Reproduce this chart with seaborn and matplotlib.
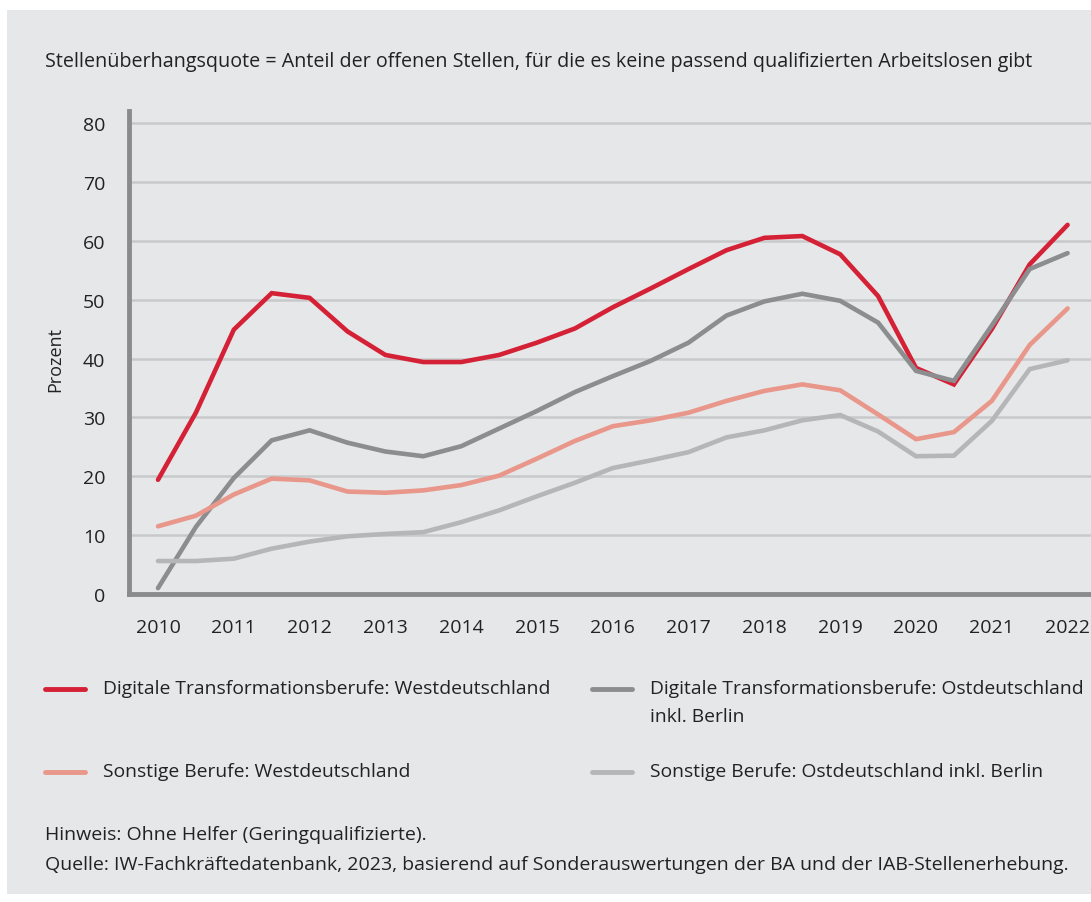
import numpy as np
import pandas as pd
import matplotlib
matplotlib.use("Agg")
import matplotlib.pyplot as plt
import seaborn as sns
from matplotlib import font_manager as fm
from matplotlib.patches import Rectangle

# ---- data ----
years = [2010 + 0.5 * i for i in range(25)]
digital_west = [19.4, 30.8, 44.9, 51.1, 50.3, 44.6, 40.6, 39.4, 39.4, 40.6,
                42.7, 45.1, 48.7, 51.9, 55.2, 58.4, 60.5, 60.8, 57.7, 50.6,
                38.4, 35.6, 45.0, 56.0, 62.7]
digital_ost = [1.0, 11.4, 19.7, 26.1, 27.8, 25.7, 24.2, 23.4, 25.1, 28.1,
               31.1, 34.3, 37.0, 39.6, 42.7, 47.3, 49.7, 51.0, 49.8, 46.1,
               37.9, 36.2, 45.6, 55.2, 57.9]
sonstige_west = [11.5, 13.3, 16.9, 19.6, 19.3, 17.4, 17.2, 17.6, 18.5, 20.1,
                 23.0, 26.0, 28.5, 29.5, 30.8, 32.8, 34.5, 35.6, 34.6, 30.5,
                 26.3, 27.5, 32.8, 42.3, 48.5]
sonstige_ost = [5.6, 5.6, 6.0, 7.7, 8.9, 9.8, 10.2, 10.5, 12.2, 14.2,
                16.6, 18.9, 21.4, 22.7, 24.1, 26.6, 27.8, 29.5, 30.4, 27.6,
                23.4, 23.5, 29.4, 38.2, 39.7]
series_names = ["Digitale Transformationsberufe: Westdeutschland",
                "Digitale Transformationsberufe: Ostdeutschland\ninkl. Berlin",
                "Sonstige Berufe: Westdeutschland",
                "Sonstige Berufe: Ostdeutschland inkl. Berlin"]
colors = ["#d42136", "#8c8d8f", "#e8978a", "#b5b6b8"]
xticks = list(range(2010, 2023))
yticks = list(range(0, 81, 10))
title = "Stellenüberhangsquote = Anteil der offenen Stellen, für die es keine passend qualifizierten Arbeitslosen gibt"
ylabel = "Prozent"
note1 = "Hinweis: Ohne Helfer (Geringqualifizierte)."
note2 = "Quelle: IW-Fachkräftedatenbank, 2023, basierend auf Sonderauswertungen der BA und der IAB-Stellenerhebung."

df = pd.DataFrame({"Jahr": years * 4,
                   "Wert": digital_west + digital_ost + sonstige_west + sonstige_ost,
                   "Serie": sum([[n] * len(years) for n in series_names], [])})

sns.set_theme(style="white")
avail = {f.name for f in fm.fontManager.ttflist}
fam = "Open Sans" if "Open Sans" in avail else "DejaVu Sans"
plt.rcParams["font.family"] = [fam, "DejaVu Sans"]

BG = "#e6e7e9"
TXT = "#222222"
W, H = 1091, 903
fig = plt.figure(figsize=(W / 100, H / 100), dpi=100, facecolor="white")
fig.patches.append(Rectangle((7 / W, 1 - 895 / H), 1 - 7 / W, (895 - 11) / H,
                             transform=fig.transFigure, facecolor=BG,
                             edgecolor="none", zorder=-10))

ax_l, ax_r, ax_t, ax_b = 129, 1091, 112, 595
ax = fig.add_axes([ax_l / W, 1 - ax_b / H, (ax_r - ax_l) / W, (ax_b - ax_t) / H])
ax.set_facecolor(BG)

sns.lineplot(data=df, x="Jahr", y="Wert", hue="Serie", palette=colors,
             hue_order=series_names, linewidth=3.3, ax=ax, legend=False,
             zorder=3)
for l in ax.lines:
    l.set_solid_capstyle("round")
    l.set_solid_joinstyle("miter")

x0 = 2010 - (158 - ax_l) / 75.8
x1 = 2010 + (ax_r - 158) / 75.8
ax.set_xlim(x0, x1)
ax.set_ylim(0, 80 + (124 - ax_t) / 5.875)
ax.set_xticks(xticks)
ax.set_yticks(yticks)
ax.set_xticklabels([str(t) for t in xticks], fontsize=14, color=TXT)
ax.set_yticklabels([str(t) for t in yticks], fontsize=14, color=TXT)
ax.tick_params(axis="both", length=0)
ax.tick_params(axis="x", pad=17)
ax.tick_params(axis="y", pad=17)
for lab in ax.get_xticklabels():
    lab.set_clip_on(False)
ax.grid(axis="y", color="#c8c9cb", linewidth=1.8, zorder=1)
ax.set_axisbelow(True)
for s in ["top", "right"]:
    ax.spines[s].set_visible(False)
for s in ["left", "bottom"]:
    ax.spines[s].set_color("#8a8b8d")
    ax.spines[s].set_linewidth(3.5)
    ax.spines[s].set_zorder(4)
ax.set_xlabel("")
ax.set_ylabel("")
fig.text(55 / W, 1 - 360 / H, ylabel, rotation=90, ha="center", va="center",
         fontsize=13, color=TXT)

fig.text(45 / W, 1 - 62 / H, title, ha="left", va="center", fontsize=14.2,
         color=TXT)

# legend (manual layout)
leg_pos = [(45, 690), (592, 690), (45, 773), (592, 773)]
for (lx, ly), name, c in zip(leg_pos, series_names, colors):
    fig.add_artist(plt.Line2D([lx / W, (lx + 40) / W], [1 - ly / H, 1 - ly / H],
                              color=c, linewidth=3.5, solid_capstyle="round",
                              transform=fig.transFigure))
    fig.text((lx + 58) / W, 1 - (ly - 10) / H, name, ha="left", va="top",
             fontsize=13.9, color=TXT, linespacing=1.75)

fig.text(45 / W, 1 - 835 / H, note1, ha="left", va="center", fontsize=14,
         color=TXT)
fig.text(45 / W, 1 - 865 / H, note2, ha="left", va="center", fontsize=14,
         color=TXT)

fig.savefig("out.png", dpi=100, facecolor="white")
